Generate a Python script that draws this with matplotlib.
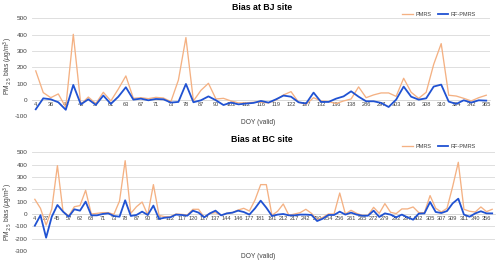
import matplotlib
matplotlib.use("Agg")
import matplotlib.pyplot as plt
import numpy as np
from matplotlib import font_manager

plt.rcParams['font.family'] = ['Liberation Sans', 'DejaVu Sans']
_names = {f.name for f in font_manager.fontManager.ttflist}
TICKFONT = ['Liberation Sans Narrow', 'Liberation Sans'] if 'Liberation Sans Narrow' in _names else ['Liberation Sans']
XT_SIZE = 4.9 if 'Liberation Sans Narrow' in _names else 4.1

# ---- data: BJ site ----
bj_labels = ["4", "36", "44", "48", "57", "61", "63", "67", "71", "73", "78", "87", "90",
             "102", "112", "116", "119", "122", "127", "132", "136", "138", "286", "297",
             "303", "306", "308", "310", "324", "342", "365"]
bj_pmrs = [178, 45, 14, 37, -45, 402, -27, 18, -22, 47, -6, 67, 147, 10, 14, 8, 16, 12, -10,
           122, 382, -6, 59, 102, 6, 10, -6, -18, -18, -14, -14, -18, 0, 31, 51, -14, -27,
           14, -6, -10, -22, -6, 6, 80, 14, 31, 43, 43, 22, 133, 47, 10, 47, 218, 345, 29,
           24, 10, -6, 14, 29]
bj_rf = [-57, 10, 4, -14, -60, 92, -27, 4, -30, 27, -24, 20, 78, 2, 8, -2, 6, 4, -16, -12,
         98, -14, -2, 22, -2, -31, -16, -27, -22, -18, -6, -16, 4, 27, 20, -14, -22, 45, -12,
         -12, 8, 22, 53, 20, -8, -8, -18, -43, 2, 82, 20, 2, 10, 82, 94, -10, -24, -2, -16,
         -2, -4]

# ---- data: BC site ----
bc_labels = ["4", "27", "45", "57", "62", "68", "71", "73", "78", "87", "90", "96", "112",
             "117", "120", "127", "137", "144", "146", "177", "181", "191", "212", "217",
             "242", "250", "254", "256", "261", "265", "272", "279", "292", "297", "302",
             "305", "307", "309", "311", "340", "356"]
bc_pmrs = [119, 46, -90, 40, 392, 19, -16, 59, 68, 192, 0, 5, 11, 11, -3, 105, 432, 5, 59,
           97, -8, 238, -11, -22, -22, 0, -3, -8, 38, 38, -27, 5, 11, -11, 5, 11, 32, 46, 24,
           114, 238, 238, -11, 22, 81, -11, 0, 11, 38, 5, -46, -27, 0, 0, 170, 0, 30, 5, -11,
           -11, 54, 5, 84, 14, 3, 41, 41, 57, 11, 11, 149, 46, 16, 46, 222, 419, 38, 22, 16,
           57, 19, 38]
bc_rf = [-95, -10, -192, -22, 73, 19, -22, 38, 27, 100, -11, -11, 0, 5, -16, -22, 111, -16,
         -8, 19, -8, 68, -40, -30, -27, -5, -8, -14, 27, 11, -27, 5, 27, -11, 5, 11, 27, 16,
         -5, 46, 108, 51, -16, -5, 0, -11, -11, -5, -5, -8, -57, -38, -8, -8, 19, -5, 11, -5,
         -14, -14, 27, -24, 5, -5, -27, -5, -27, -46, 3, 5, 97, 16, 8, 24, 86, 124, -5, -22,
         5, 22, 5, 5]

ORANGE = '#F4B183'
BLUE = '#2052D2'
GRID = '#D9D9D9'
TXT = '#404040'

W, H = 500, 264
fig = plt.figure(figsize=(5, 2.64), dpi=100)


def fx(px):
    return px / W


def fy(py):
    return 1 - py / H


def panel(left, right, top, bottom, pmrs, rf, labels, ylim, yticks, title, title_y,
          leg_y, xlabel_y, ylabel_y):
    ax = fig.add_axes([fx(left), fy(bottom), fx(right - left), fy(top) - fy(bottom)])
    n = len(pmrs)
    x = np.arange(n)
    ax.plot(x, pmrs, color=ORANGE, lw=0.95, label='PMRS', zorder=3)
    ax.plot(x, rf, color=BLUE, lw=1.3, label='RF-PMRS', zorder=4)
    ax.set_xlim(-0.5, n - 0.5)
    ax.set_ylim(*ylim)
    ax.set_yticks(yticks)
    ax.set_yticklabels([str(v) for v in yticks])
    ax.yaxis.grid(True, color=GRID, lw=0.6)
    ax.set_axisbelow(True)
    ax.set_xticks(np.arange(0, n, 2))
    ax.set_xticklabels(labels, family=TICKFONT)
    for s in ['top', 'right', 'left']:
        ax.spines[s].set_visible(False)
    ax.spines['bottom'].set_position(('data', 0))
    ax.spines['bottom'].set_color(GRID)
    ax.spines['bottom'].set_linewidth(0.6)
    ax.tick_params(axis='x', length=0, pad=1.5, labelsize=XT_SIZE, labelcolor=TXT)
    ax.tick_params(axis='y', length=0, pad=3, labelsize=4.6, labelcolor=TXT)
    ax.legend(loc='center', bbox_to_anchor=(fx(439), fy(leg_y)), bbox_transform=fig.transFigure,
              ncol=2, frameon=False, fontsize=4.0, handlelength=1.9, columnspacing=1.2,
              handletextpad=0.4, labelcolor=TXT)
    fig.text(fx(262), fy(title_y), title, ha='center', va='center', fontsize=6.3,
             fontweight='bold', color='black')
    fig.text(fx(258), fy(xlabel_y), 'DOY (valid)', ha='center', va='center', fontsize=4.8,
             color=TXT)
    fig.text(fx(8), fy(ylabel_y), r'PM$_{2.5}$ bias ($\mu$g/m$^{3}$)', ha='center',
             va='center', rotation=90, fontsize=4.8, color=TXT)
    return ax


panel(32, 490, 18.3, 116.3, bj_pmrs, bj_rf, bj_labels, (-100, 500),
      [-100, 0, 100, 200, 300, 400, 500], 'Bias at BJ site', 8, 14, 123, 66)
panel(32, 495, 152.3, 251, bc_pmrs, bc_rf, bc_labels, (-300, 500),
      [-300, -200, -100, 0, 100, 200, 300, 400, 500], 'Bias at BC site', 139, 146, 256, 212)

fig.savefig('out.png', dpi=100)
